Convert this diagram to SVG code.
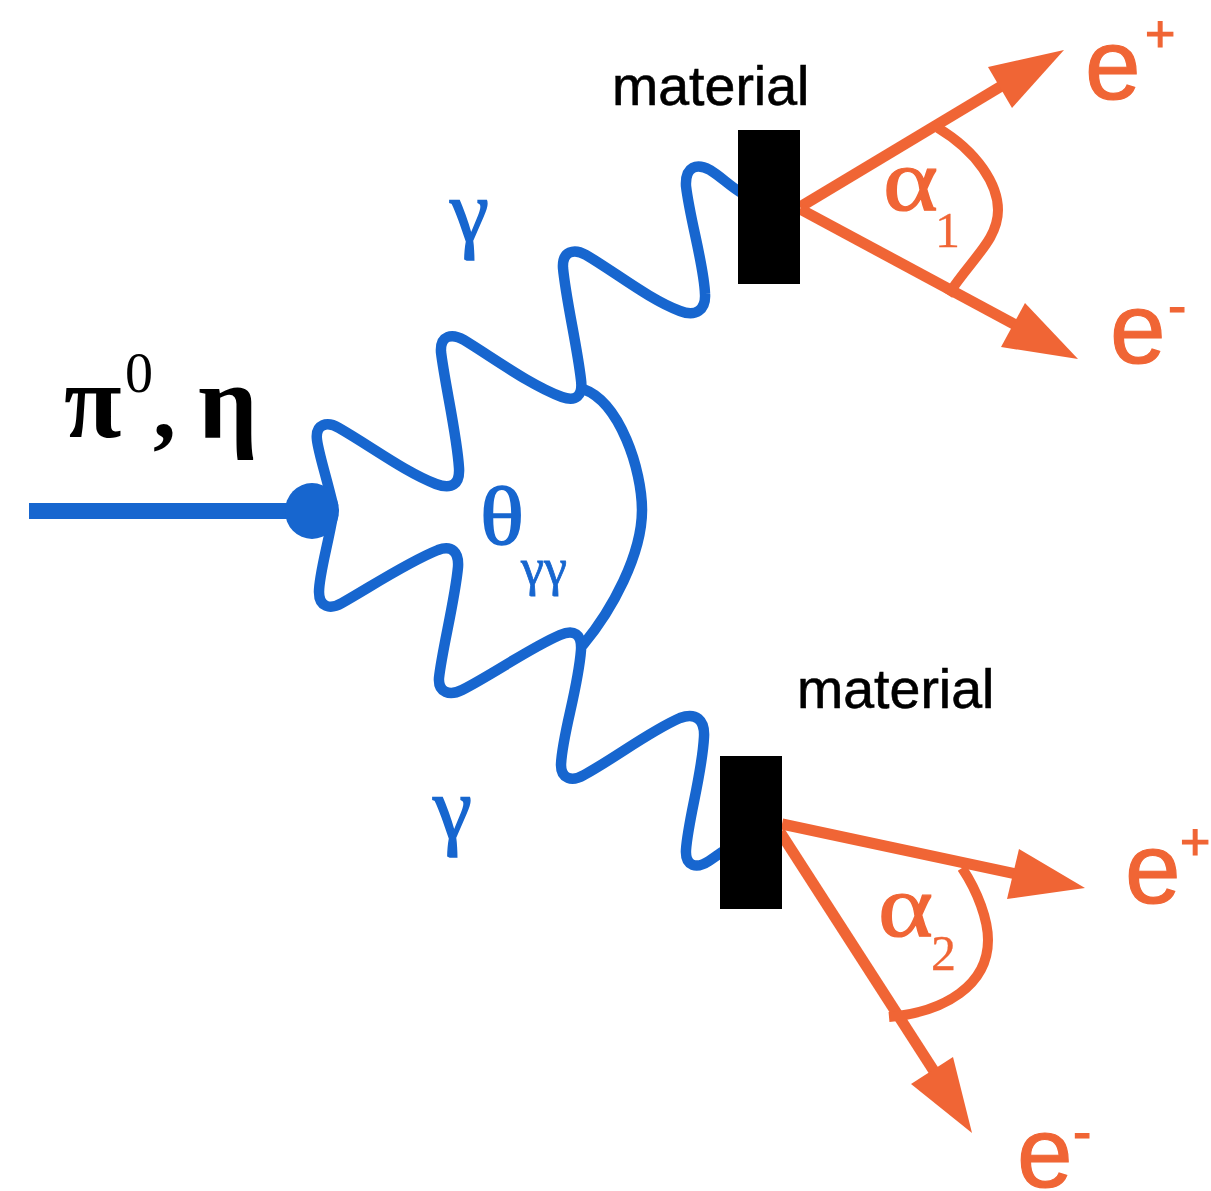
<svg xmlns="http://www.w3.org/2000/svg" width="1211" height="1191" viewBox="0 0 1211 1191">
<style>
.b{fill:none;stroke:#1766cf;stroke-width:10.5;stroke-linejoin:round;stroke-linecap:round}
.o{fill:none;stroke:#f06535;stroke-width:11}
.oa{fill:none;stroke:#f06535;stroke-width:10}
.oh{fill:#f06535}
.s{font-family:"Liberation Serif","DejaVu Serif",serif}
.a{font-family:"Liberation Sans",Arial,sans-serif}
.tb{fill:#1766cf;stroke:#1766cf;stroke-width:1.5}.to{fill:#f06535;stroke:#f06535;stroke-width:1.2}.tk{fill:#000}
.m{stroke:#000;stroke-width:.6}
</style>
<rect width="1211" height="1191" fill="#fff"/>
<g id="connectors">
<path class="b" d="M333 505C326 475 319 455 317 440C315 424 327 421 339 428C372 447 405 472 436 484C452 490 460 484 459 468C457 435 445 385 441 352C440 335 452 333 464 340C495 359 530 385 562 397C576 402 583 396 581 380C577 345 566 300 563 268C562 251 574 248 586 255C615 272 650 300 680 311C696 317 706 310 705 294C704 265 690 220 686 186C685 166 697 163 710 170C720 176 730 186 740 192"/>
<path class="b" d="M333 515C328 545 319 575 319 592C319 607 330 610 342 603C372 586 408 562 438 550C452 545 459 552 458 567C455 600 442 650 439 678C438 693 450 696 462 690C495 673 530 648 560 635C574 629 582 634 581 650C578 690 562 735 561 765C561 779 572 782 584 775C615 758 650 731 680 718C696 712 705 720 704 737C702 775 688 820 686 850C685 867 697 869 709 861L722 852"/>
<path class="b" d="M583 389C620 402 642 470 642 510C642 555 612 610 583 645"/>
<line x1="29" y1="511" x2="300" y2="511" stroke="#1766cf" stroke-width="16"/>
<ellipse cx="312" cy="511" rx="27" ry="28" fill="#1766cf"/>
<path class="o" d="M800 207L1030 69"/>
<polygon class="oh" points="1064,50 988,67 1012,108"/>
<path class="o" d="M800 209L1040 338"/>
<polygon class="oh" points="1078,359 1025,303 1001,347"/>
<path class="oa" d="M938 128C978 152 998 185 998 210C998 240 972 258 948 295"/>
<path class="o" d="M782 824L1030 877"/>
<polygon class="oh" points="1085,888 1019,849 1007,899"/>
<path class="o" d="M780 832L950 1096"/>
<polygon class="oh" points="972,1133 953,1057 911,1084"/>
<path class="oa" d="M962 868C978 892 988 920 988 940C988 985 945 1012 889 1017"/>
</g>
<g id="material-top">
<rect x="738" y="130" width="62" height="154" fill="#000"/>
<text class="a tk m" x="612" y="105" font-size="55.5">material</text>
</g>
<g id="material-bottom">
<rect x="720" y="756" width="62" height="153" fill="#000"/>
<text class="a tk m" x="797" y="708" font-size="55.5">material</text>
</g>
<g id="labels">
<text class="s tk" x="64" y="437" font-size="105" font-weight="bold">π</text>
<text class="s tk" x="125" y="392" font-size="56">0</text>
<text class="s tk" x="153" y="437" font-size="92" font-weight="bold">,</text>
<text class="s tk" x="198" y="437" font-size="105" font-weight="bold">η</text>
<text class="s tb" x="450" y="241" font-size="88">γ</text>
<text class="s tb" x="433" y="838" font-size="88">γ</text>
<text class="s tb" x="480" y="544" font-size="82" textLength="44" lengthAdjust="spacingAndGlyphs">θ</text>
<text class="s tb" x="521" y="585" font-size="52" style="stroke-width:.8">γγ</text>
<text class="s to" x="883" y="210" font-size="88" textLength="55" lengthAdjust="spacingAndGlyphs">α</text>
<text class="s to" x="935" y="247" font-size="50" style="stroke-width:.3">1</text>
<text class="s to" x="878" y="936" font-size="88" textLength="55" lengthAdjust="spacingAndGlyphs">α</text>
<text class="s to" x="931" y="970" font-size="50" style="stroke-width:.3">2</text>
<text class="a to" x="1085" y="99" font-size="100">e</text>
<text class="a to" x="1145" y="52" font-size="52">+</text>
<text class="a to" x="1110" y="363" font-size="100">e</text>
<text class="a to" x="1168" y="325" font-size="55">-</text>
<text class="a to" x="1125" y="903" font-size="100">e</text>
<text class="a to" x="1180" y="860" font-size="52">+</text>
<text class="a to" x="1017" y="1187" font-size="100">e</text>
<text class="a to" x="1073" y="1151" font-size="55">-</text>
</g>
</svg>
